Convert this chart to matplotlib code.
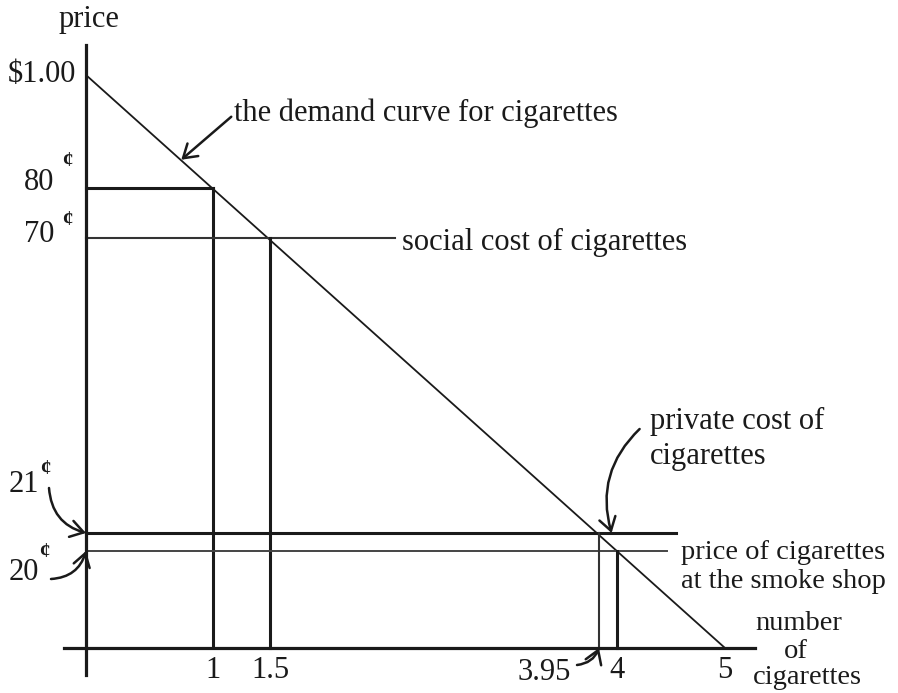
import numpy as np
import matplotlib
matplotlib.use("Agg")
import matplotlib.pyplot as plt

# ---------------- data ----------------
tick_quantities = [1, 1.5, 4, 5]
tick_quantity_labels = ["1", "1.5", "4", "5"]
q_private = 3.95
q_private_label = "3.95"
demand_q = [0, 5]
demand_p = [1.00, 0.0]
p_top = 1.00
p_top_label = "$1.00"
p_ref, q_ref = 0.80, 1
p_social, q_social = 0.70, 1.5
p_private = 0.21
p_shop, q_shop = 0.20, 4
price_labels = {"80": 0.80, "70": 0.70, "21": 0.21, "20": 0.20}
cent = "\u00a2"

# ---------------- layout (schematic, not to scale) ----------------
W, H = 898, 693
x_knots_data = [0, 1, 1.5, 3.95, 4, 5]
x_knots_px = [86, 213, 270, 599, 617, 725]
y_knots_data = [0, 0.20, 0.21, 0.70, 0.80, 1.00]
y_knots_px = [45, 142, 160, 455, 505, 618]


def piecewise(kd, kp, slope):
    kd = np.asarray(kd, float)
    kp = np.asarray(kp, float)

    def fwd(v):
        v = np.asarray(v, float)
        out = np.interp(v, kd, kp)
        out = np.where(v < kd[0], kp[0] + (v - kd[0]) * slope, out)
        out = np.where(v > kd[-1], kp[-1] + (v - kd[-1]) * slope, out)
        return out

    def inv(p):
        p = np.asarray(p, float)
        out = np.interp(p, kp, kd)
        out = np.where(p < kp[0], kd[0] + (p - kp[0]) / slope, out)
        out = np.where(p > kp[-1], kd[-1] + (p - kp[-1]) / slope, out)
        return out

    return fwd, inv


xf, xi = piecewise(x_knots_data, x_knots_px, 127.8)
yf, yi = piecewise(y_knots_data, y_knots_px, 573.0)

FONT = "Liberation Serif"
FS = 22
INK = "#1a1a1a"
plt.rcParams["font.family"] = [FONT, "DejaVu Serif"]

fig = plt.figure(figsize=(W / 100, H / 100), dpi=100)
ax = fig.add_axes([0, 0, 1, 1])
ax.set_xscale("function", functions=(xf, xi))
ax.set_yscale("function", functions=(yf, yi))
ax.set_xlim(float(xi(0)), float(xi(W)))
ax.set_ylim(float(yi(0)), float(yi(H)))
ax.patch.set_alpha(0)

# axes as spines
for s in ["top", "right"]:
    ax.spines[s].set_visible(False)
ax.spines["left"].set_position(("data", 0))
ax.spines["bottom"].set_position(("data", 0))
ax.spines["left"].set_bounds(float(yi(18)), float(yi(648)))
ax.spines["bottom"].set_bounds(float(xi(64)), float(xi(755)))
for s in ["left", "bottom"]:
    ax.spines[s].set_linewidth(2.3)
    ax.spines[s].set_color(INK)

ax.set_yticks([])
ax.set_xticks(tick_quantities)
ax.set_xticklabels(tick_quantity_labels, fontsize=FS, color=INK)
ax.tick_params(axis="x", length=0, pad=6)
ax.xaxis.set_minor_locator(matplotlib.ticker.NullLocator())
ax.yaxis.set_minor_locator(matplotlib.ticker.NullLocator())

# demand curve
ax.plot(demand_q, demand_p, color=INK, lw=1.3, solid_capstyle="butt")

# 80 cent reference lines
ax.plot([0, q_ref], [p_ref, p_ref], color=INK, lw=2.2)
ax.plot([q_ref, q_ref], [p_ref, 0.005], color=INK, lw=2.2)

# social cost line (extends to its label)
social_end = 2.43
ax.plot([0, social_end], [p_social, p_social], color="#333333", lw=1.5)
ax.plot([q_social, q_social], [p_social, 0], color=INK, lw=2.2)

# private cost and shop price lines
ax.plot([0, 4.55], [p_private, p_private], color=INK, lw=2.2)
ax.plot([0, 4.46], [p_shop, p_shop], color="#444444", lw=1.4)
ax.plot([q_private, q_private], [p_private, 0], color="#333333", lw=1.5)
ax.plot([q_shop, q_shop], [p_shop, 0], color=INK, lw=2.2)

tk = dict(fontsize=FS, color=INK, textcoords="offset pixels")
ck = dict(fontsize=15, fontweight="bold", color=INK, textcoords="offset pixels",
          ha="center", va="center")

# y labels
ax.annotate(p_top_label, (0, p_top), xytext=(-10, 1), ha="right", va="center", **tk)
ax.annotate("80", (0, price_labels["80"]), xytext=(-32, 6), ha="right", va="center", **tk)
ax.annotate(cent, (0, price_labels["80"]), xytext=(-19, 27), **ck)
ax.annotate("70", (0, price_labels["70"]), xytext=(-32, 3), ha="right", va="center", **tk)
ax.annotate(cent, (0, price_labels["70"]), xytext=(-19, 18), **ck)
ax.annotate("21", (0, price_labels["21"]), xytext=(-47, 49), ha="right", va="center", **tk)
ax.annotate(cent, (0, price_labels["21"]), xytext=(-41, 64), **ck)
ax.annotate("20", (0, price_labels["20"]), xytext=(-47, -21), ha="right", va="center", **tk)
ax.annotate(cent, (0, price_labels["20"]), xytext=(-42, -1), **ck)

arr = dict(arrowstyle="->,head_length=0.55,head_width=0.35", color=INK, lw=1.8,
           mutation_scale=17, shrinkA=0, shrinkB=0)

# 21 / 20 arrows
ax.annotate("", (0, p_private), xytext=(-37, 45), textcoords="offset pixels",
            arrowprops=dict(connectionstyle="arc3,rad=0.35", **arr))
ax.annotate("", (0, p_shop), xytext=(-35, -28), textcoords="offset pixels",
            arrowprops=dict(connectionstyle="arc3,rad=0.35", **arr))

# 3.95 label
ax.annotate(q_private_label, (q_private, 0), xytext=(-28, -24), ha="right", va="center", **tk)
ax.annotate("", (q_private, 0), xytext=(-22, -17), textcoords="offset pixels",
            arrowprops=dict(connectionstyle="arc3,rad=0.3", **arr))

# axis titles
ax.annotate("price", (0, p_top), xytext=(3, 56), ha="center", va="center", **tk)
tq = dict(fontsize=20.5, color=INK, textcoords="offset pixels", va="center")
ax.annotate("number", (demand_q[1], 0), xytext=(30, 25), ha="left", **tq)
ax.annotate("of", (demand_q[1], 0), xytext=(71, -3), ha="center", **tq)
ax.annotate("cigarettes", (demand_q[1], 0), xytext=(28, -30), ha="left", **tq)

# demand annotation
dq = 0.75
dp = demand_p[0] + (demand_p[1] - demand_p[0]) * dq / demand_q[1]
ax.annotate("", (dq, dp), xytext=(50, 43), textcoords="offset pixels",
            arrowprops=dict(connectionstyle="arc3,rad=0", **arr))
ax.annotate("the demand curve for cigarettes", (dq, dp), xytext=(53, 47),
            ha="left", va="center", **tk)

# social cost label
ax.annotate("social cost of cigarettes", (social_end, p_social), xytext=(7, -4),
            ha="left", va="center", **tk)

# private cost label
ax.annotate("", (3.985, p_private), xytext=(28, 104), textcoords="offset pixels",
            arrowprops=dict(connectionstyle="arc3,rad=0.3", **arr))
ax.annotate("private cost of\ncigarettes", (3.985, p_private), xytext=(38, 94),
            ha="left", va="center", linespacing=1.3, **tk)

# shop price label
ax.annotate("price of cigarettes\nat the smoke shop", (4.46, p_shop), xytext=(14, -16),
            ha="left", va="center", linespacing=1.2, textcoords="offset pixels",
            fontsize=20.5, color=INK)

fig.savefig("out.png", dpi=100)
